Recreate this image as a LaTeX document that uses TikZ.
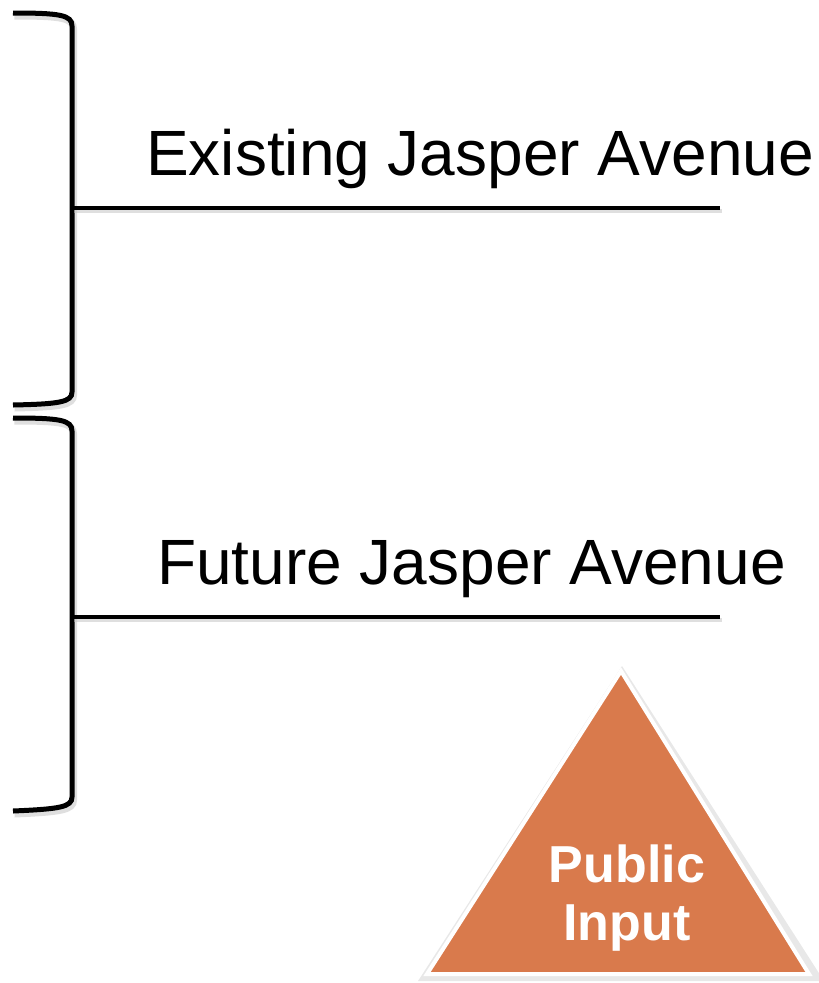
\documentclass[tikz,border=0pt]{standalone}
\usepackage{fontspec}
\setmainfont{Liberation Sans}
\definecolor{tri}{HTML}{D97A4C}
\begin{document}
\begin{tikzpicture}[x=1pt,y=-1pt,
  brk/.style={line width=5pt,black,line cap=butt},
  shd/.style={line width=7pt,black!25,opacity=0.5,transform canvas={xshift=1.5pt,yshift=-3pt}},
  lbl/.style={anchor=base west,inner sep=0pt,font=\fontsize{64}{70}\selectfont}]
\useasboundingbox (0,0) rectangle (819,983);
% brackets
\foreach \s in {shd,brk}{
  \draw[\s] (13,13) .. controls (60,13) and (72,15) .. (72,26) -- (72,392) .. controls (72,402) and (60,404) .. (13,405);
  \draw[\s] (13,418) .. controls (60,418) and (72,420) .. (72,431) -- (72,797) .. controls (72,807) and (60,809) .. (13,811);
}
\coordinate (b1) at (72,208);
\coordinate (e1) at (720,208);
\coordinate (b2) at (72,617);
\coordinate (e2) at (720,617);
\draw[shd,line width=4pt] (b1) -- (e1);
\draw[shd,line width=4pt] (b2) -- (e2);
\draw[brk,line width=4pt] (b1) -- (e1);
\draw[brk,line width=4pt] (b2) -- (e2);
\node[lbl] (t1) at (146,175) {Existing Jasper Avenue};
\node[lbl] (t2) at (157,584) {Future Jasper Avenue};
% triangle
\fill[black!15,opacity=0.6] (622,666) -- (418,981) -- (824,981) -- cycle;
\filldraw[fill=tri,draw=white,line width=4pt,line join=miter] (621,671) -- (427,974) -- (809,974) -- cycle;
\node[text=white,align=center,font=\bfseries\fontsize{52}{58}\selectfont,inner sep=0pt] (pi) at (627,898) {Public\\Input};
\end{tikzpicture}
\end{document}
